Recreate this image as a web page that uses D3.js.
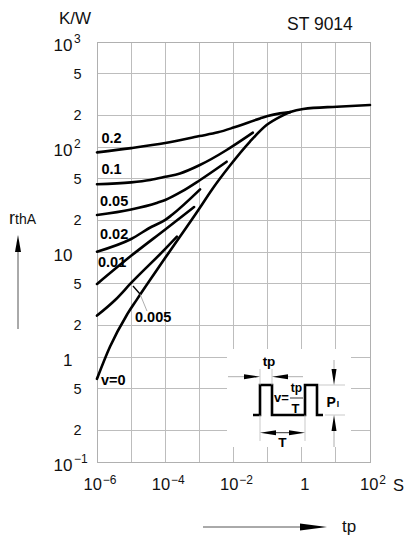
<!DOCTYPE html>
<html><head><meta charset="utf-8">
<script src="https://cdn.jsdelivr.net/npm/d3@7"></script>
<style>html,body{margin:0;padding:0;background:#fff;} svg{display:block;font-family:"Liberation Sans",Arial,Helvetica,sans-serif;}</style>
</head><body>
<svg id="c" width="411" height="537"></svg>
<script>
// ---------------- data ----------------
const seriesNames = ["v=0", "0.2", "0.1", "0.05", "0.02", "0.01", "0.005"];
const tpV0   = [1e-6, 2.4e-6, 7.4e-6, 1.45e-5, 1e-4, 1e-3, 2.3e-3, 8e-3, 3e-2, 9.3e-2, 0.23, 0.46, 1.1, 10.7, 100];
const rV0    = [0.62, 1.25, 2.5, 3.5, 8.8, 26, 39, 67, 112, 162, 194, 215, 230, 242, 251];
const tpV02  = [1e-6, 1e-5, 1e-4, 1e-3, 3.5e-3, 1e-2, 6e-2, 0.1, 0.23, 0.46];
const rV02   = [88.8, 97.5, 109, 127, 138, 153, 187, 197, 209, 215];
const tpV01  = [1e-6, 1e-5, 3.6e-5, 1e-4, 2.7e-4, 1e-3, 6.3e-3, 1e-2, 3.7e-2];
const rV01   = [44.2, 46, 48.5, 52, 56, 67, 93.6, 103, 137];
const tpV005 = [1e-6, 1e-5, 5.9e-5, 1e-4, 2.9e-4, 1e-3, 6.3e-3];
const rV005  = [22.5, 25.4, 29.5, 31.3, 37.3, 48, 72.4];
const tpV002 = [1e-6, 1e-5, 4e-5, 1e-4, 1.55e-4, 1.05e-3];
const rV002  = [10.07, 13.3, 17.4, 20.2, 22.5, 39.5];
const tpV001 = [1e-6, 1e-5, 1e-4, 7e-4];
const rV001  = [4.96, 9.2, 16.4, 26.8];
const tpV0005 = [1e-6, 3.4e-6, 1e-5, 1e-4, 2.2e-4];
const rV0005  = [2.48, 3.49, 5.07, 10.7, 14];

const yTicks    = [0.1, 0.2, 0.5, 1, 2, 5, 10, 20, 50, 100, 200, 500, 1000];
const yTickBase = ["10", "2", "5", "1", "2", "5", "10", "2", "5", "10", "2", "5", "10"];
const yTickExp  = ["\u22121", "", "", "", "", "", "", "", "", "2", "", "", "3"];
const xGrid     = [1e-6, 1e-5, 1e-4, 1e-3, 1e-2, 1e-1, 1, 10, 100];
const xTicks    = [1e-6, 1e-4, 1e-2, 1, 100];
const xTickBase = ["10", "10", "10", "1", "10"];
const xTickExp  = ["\u22126", "\u22124", "\u22122", "", "2"];
const xUnit = "S";
const yUnit = "K/W";
const title = "ST 9014";

// ---------------- layout ----------------
const svg = d3.select("#c");
const L = 97, R = 370, T = 42, B = 462;
const x = d3.scaleLog().domain([1e-6, 1e2]).range([L, R]);
const y = d3.scaleLog().domain([0.1, 1000]).range([B, T]);
const gridCol = "#bdbdbd";
const font = '"Liberation Sans",Arial,Helvetica,sans-serif';

// grid
const g = svg.append("g");
g.selectAll("line.h").data(yTicks).join("line")
  .attr("x1", L).attr("x2", R).attr("y1", d => y(d)).attr("y2", d => y(d))
  .attr("stroke", gridCol).attr("stroke-width", 1).attr("shape-rendering", "crispEdges");
g.selectAll("line.v").data(xGrid).join("line")
  .attr("y1", T).attr("y2", B).attr("x1", d => x(d)).attr("x2", d => x(d))
  .attr("stroke", gridCol).attr("stroke-width", 1).attr("shape-rendering", "crispEdges");
g.append("rect").attr("x", L).attr("y", T).attr("width", R - L).attr("height", B - T)
  .attr("fill", "none").attr("stroke", "#b0b0b0").attr("shape-rendering", "crispEdges");

// y tick labels
yTicks.forEach((v, i) => {
  const isDec = yTickBase[i].startsWith("1");
  const yy = y(v);
  svg.append("text").attr("x", isDec ? 72.5 : 81.5).attr("y", yy + (isDec ? 9 : 5))
    .attr("text-anchor", "end").attr("font-size", isDec ? 17 : 14.5).attr("fill", "#111")
    .text(yTickBase[i]);
  if (yTickExp[i]) {
    svg.append("text").attr("x", 74).attr("y", yy + 1)
      .attr("font-size", 12).attr("fill", "#111").text(yTickExp[i]);
  }
});

// x tick labels
xTicks.forEach((v, i) => {
  const t = svg.append("text").attr("x", x(v) + 3).attr("y", 490)
    .attr("text-anchor", "middle").attr("fill", "#111");
  t.append("tspan").attr("font-size", 16.5).text(xTickBase[i]);
  if (xTickExp[i]) t.append("tspan").attr("font-size", 12).attr("dy", -6.5).attr("dx", 1).text(xTickExp[i]);
});
svg.append("text").attr("x", x(100) + 23).attr("y", 491).attr("font-size", 16.5).attr("fill", "#111").text(xUnit);

// titles
svg.append("text").attr("x", 59).attr("y", 23.5).attr("font-size", 17).attr("fill", "#111").text(yUnit);
svg.append("text").attr("x", 287).attr("y", 30).attr("font-size", 17.5).attr("fill", "#111").text(title);
const rt = svg.append("text").attr("x", 9).attr("y", 224).attr("fill", "#111");
rt.append("tspan").attr("font-size", 18).text("r");
rt.append("tspan").attr("font-size", 14).text("thA");
const xt = svg.append("text").attr("x", 342).attr("y", 532).attr("fill", "#111");
xt.append("tspan").attr("font-size", 17).text("t");
xt.append("tspan").attr("font-size", 17).text("p");

// axis arrows
svg.append("line").attr("x1", 18).attr("x2", 18).attr("y1", 329).attr("y2", 250).attr("stroke", "#555").attr("stroke-width", 1);
svg.append("path").attr("d", "M18,235 L21,252 L15,252 Z").attr("fill", "#000");
svg.append("line").attr("x1", 203).attr("x2", 302).attr("y1", 527).attr("y2", 527).attr("stroke", "#555").attr("stroke-width", 1);
svg.append("path").attr("d", "M327,527 L300,523.5 L300,530.5 Z").attr("fill", "#000");

// inset (white box + pulse diagram)
svg.append("rect").attr("x", 227).attr("y", 349).attr("width", 124).attr("height", 98).attr("fill", "#fff");
const ins = svg.append("g").attr("transform", "translate(253,385)");
ins.append("path").attr("d", "M0,30 H7 V0 H19 V30 H52 V0 H64 V30 H70")
  .attr("fill", "none").attr("stroke", "#000").attr("stroke-width", 2.6).attr("stroke-linejoin", "miter");
const thin = (x1, y1, x2, y2, c) => ins.append("line").attr("x1", x1).attr("y1", y1).attr("x2", x2).attr("y2", y2)
  .attr("stroke", c || "#999").attr("stroke-width", 0.8);
// tp arrows
thin(-25, -8.3, -9, -8.3); thin(35, -8.3, 50, -8.3);
thin(7, -16, 7, 0, "#bbb"); thin(19, -16, 19, 0, "#bbb");
ins.append("path").attr("d", "M7,-8.3 L-9,-10.8 L-9,-5.8 Z").attr("fill", "#000");
ins.append("path").attr("d", "M19,-8.3 L35,-10.8 L35,-5.8 Z").attr("fill", "#000");
// T arrows
thin(7, 30, 7, 56, "#bbb"); thin(52, 30, 52, 56, "#bbb");
thin(23, 47.7, 36, 47.7, "#000");
ins.append("path").attr("d", "M7,47.7 L23,45.2 L23,50.2 Z").attr("fill", "#000");
ins.append("path").attr("d", "M52,47.7 L36,45.2 L36,50.2 Z").attr("fill", "#000");
// P arrows
thin(65, 0, 92, 0, "#bbb"); thin(72, 30, 92, 30, "#bbb");
thin(81, -25, 81, -16); thin(81, 46, 81, 62);
ins.append("path").attr("d", "M81,0 L78.5,-16 L83.5,-16 Z").attr("fill", "#000");
ins.append("path").attr("d", "M81,30 L78.5,46 L83.5,46 Z").attr("fill", "#000");
// inset texts
const bt = (tx, ty, s, fs, anchor) => ins.append("text").attr("x", tx).attr("y", ty).attr("font-size", fs)
  .attr("font-weight", "bold").attr("text-anchor", anchor || "start").attr("fill", "#000").text(s);
bt(16, -19.5, "tp", 13.5, "middle");
bt(21, 17, "v=", 13, "start");
bt(43.5, 6.5, "tp", 12, "middle");
thin(37, 13, 50, 13, "#000");
bt(42.5, 28, "T", 13, "middle");
bt(29.3, 61.5, "T", 13.5, "middle");
const pt = ins.append("text").attr("x", 73.5).attr("y", 21.7).attr("font-weight", "bold").attr("fill", "#000");
pt.append("tspan").attr("font-size", 14).text("P");
pt.append("tspan").attr("font-size", 8.5).attr("dx", 1).text("I");

// curves
const series = [
  [tpV0, rV0], [tpV02, rV02], [tpV01, rV01], [tpV005, rV005],
  [tpV002, rV002], [tpV001, rV001], [tpV0005, rV0005]
];
const line = d3.line().x(d => x(d[0])).y(d => y(d[1])).curve(d3.curveMonotoneX);
series.forEach(([ts, rs]) => {
  svg.append("path").datum(ts.map((t, i) => [t, rs[i]])).attr("d", line)
    .attr("fill", "none").attr("stroke", "#000").attr("stroke-width", 2.6).attr("stroke-linecap", "round");
});

// curve labels (offsets from each curve's first point)
const labelOffsets = [[4, 6], [4.5, -9.5], [4.5, -10], [3, -9], [3, -13], [1, -17], [38, 6.5]];
series.forEach(([ts, rs], i) => {
  svg.append("text").attr("x", x(ts[0]) + labelOffsets[i][0]).attr("y", y(rs[0]) + labelOffsets[i][1])
    .attr("font-size", 14.5).attr("font-weight", "bold").attr("fill", "#000").text(seriesNames[i]);
});
// leader for 0.005
const lx = x(tpV0005[0]) + 38, ly = y(rV0005[0]) + 6.5;
svg.append("line").attr("x1", lx + 12).attr("y1", ly - 11).attr("x2", lx + 5).attr("y2", ly - 28)
  .attr("stroke", "#999").attr("stroke-width", 0.8);
svg.append("line").attr("x1", lx + 5).attr("y1", ly - 28).attr("x2", lx - 2).attr("y2", ly - 36)
  .attr("stroke", "#000").attr("stroke-width", 1.4);
</script>
</body></html>
